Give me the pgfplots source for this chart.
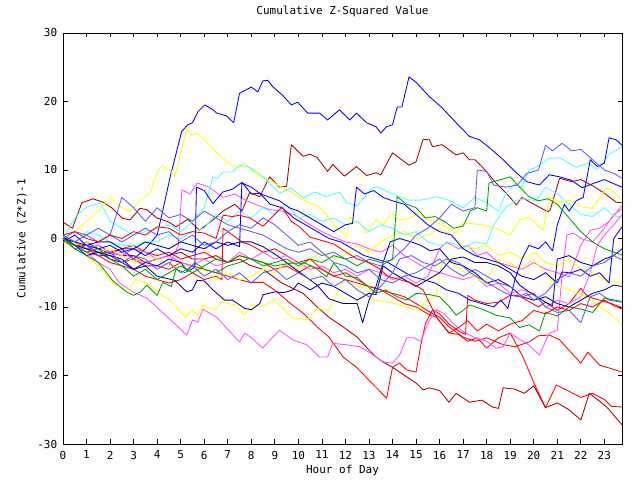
\documentclass[border=0pt]{standalone}
\usepackage{fontspec}
\setmainfont{DejaVu Sans Mono}
\usepackage{pgfplots}
\pgfplotsset{compat=1.18}
\definecolor{gred}{RGB}{255,0,0}
\definecolor{gdred}{RGB}{168,0,0}
\definecolor{ggreen}{RGB}{0,160,0}
\definecolor{gblue}{RGB}{0,0,255}
\definecolor{gmblue}{RGB}{90,90,255}
\definecolor{gdblue}{RGB}{0,0,160}
\definecolor{gmag}{RGB}{255,80,255}
\definecolor{gcyan}{RGB}{80,255,255}
\definecolor{gyel}{RGB}{255,255,0}
\begin{document}
\fontsize{11bp}{13bp}\selectfont
\begin{tikzpicture}[x=1bp,y=1bp]
\begin{axis}[
  at={(0,0)}, anchor=south west,
  scale only axis, width=559bp, height=411bp,
  xmin=0, xmax=23.75, ymin=-30, ymax=30,
  xtick={0,1,...,23}, ytick={-30,-20,...,30},
  tick align=inside, major tick length=4.5bp,
  tick style={black, line width=0.8bp},
  axis line style={black, line width=0.9bp},
  /pgf/number format/assume math mode=true,
  tick label style={font=\fontsize{11bp}{13bp}\selectfont},
  xticklabel style={yshift=-3bp},
  yticklabel style={xshift=-2bp},
  title={Cumulative Z-Squared Value},
  title style={at={(axis description cs:0.5,1)}, anchor=base, yshift=13bp},
  xlabel={Hour of Day},
  xlabel style={at={(axis description cs:0.5,0)}, anchor=center, yshift=-26bp},
  ylabel={Cumulative (Z*Z)-1},
  ylabel style={at={(axis description cs:0,0.5)}, anchor=center, rotate=0, yshift=41bp},
  every axis plot/.append style={line width=0.85bp, no marks, line join=round, sharp plot},
  clip=true,
]
% L1 blue top
\addplot[gblue] coordinates {(0,0)(0.5,-1)(1,-0.5)(1.5,-1.5)(2,-2.2)(2.5,-1.5)(3,-3)(3.5,-1.5)(4,0.5)(4.3,5)(4.54,8.8)(5.04,15.6)(5.3,16.6)(5.5,16.9)(5.73,18.5)(6.02,19.5)(6.37,18.8)(6.53,18.3)(6.95,17.9)(7.25,16.9)(7.5,21.2)(8.0,22.1)(8.28,21.4)(8.49,23.0)(8.7,23.1)(8.9,22.2)(9.33,20.9)(9.7,19.5)(9.97,19.9)(10.4,18.3)(10.9,18.3)(11.24,17.3)(11.75,18.8)(12.18,17.3)(12.47,18.3)(12.9,16.9)(13.3,16.3)(13.5,15.4)(13.74,16.3)(14.0,16.6)(14.2,19.2)(14.4,19.2)(14.7,23.6)(15.0,22.8)(15.57,20.7)(16.1,19.1)(16.7,16.9)(17.27,14.9)(17.7,14.4)(18.24,12.9)(18.7,11.5)(19.26,9.6)(19.7,8.3)(20.24,7.8)(20.66,9.3)(21.1,9.0)(21.6,8.5)(22.06,7.4)(22.5,8.0)(23.0,8.6)(23.4,8.0)(23.75,7.5)};
% L2 dark red upper
\addplot[gdred] coordinates {(0,2.4)(0.4,1.5)(0.8,5.2)(1.27,5.8)(1.7,5.3)(2.1,4.4)(2.5,3.0)(2.84,2.7)(3.27,4.4)(3.56,4.2)(3.99,3.0)(4.5,2.4)(4.8,1.7)(5.3,2.8)(5.8,1.2)(6.3,2.5)(6.8,4.0)(7.3,5.0)(7.6,4.0)(7.93,6.7)(8.36,6.1)(8.78,9.0)(9.2,7.5)(9.5,7.6)(9.7,13.7)(10.2,12.0)(10.5,12.3)(10.8,11.8)(11.24,9.8)(11.46,10.8)(11.96,9.1)(12.47,10.5)(12.9,9.2)(13.3,9.6)(13.5,9.3)(14.0,12.5)(14.7,10.7)(15.0,11.2)(15.3,14.5)(15.57,14.4)(15.7,13.4)(16.1,13.7)(16.7,12.2)(17.0,12.5)(17.27,11.5)(17.5,11.5)(17.8,10.5)(18.4,8.1)(18.97,6.1)(19.26,4.9)(19.5,6.0)(19.9,5.2)(20.6,3.9)(20.7,4.2)(21.1,8.8)(21.6,8.3)(22.0,8.6)(22.6,7.5)(23.0,6.6)(23.5,5.3)(23.75,5.2)};
% L3 red long descent, jump, ends -10
\addplot[gred] coordinates {(0,0)(0.5,-1)(1,-1.5)(1.5,-2.5)(2,-2.5)(2.5,-3.5)(3,-3)(3.5,-4)(4,-4)(4.5,-4.5)(5,-3.5)(5.5,-4)(6,-4.5)(6.5,-5)(7,-5.5)(7.5,-6)(7.93,-6.4)(8.5,-6.4)(9.1,-7.8)(9.63,-9.4)(10.2,-10.9)(10.8,-12.9)(11.3,-14.4)(11.9,-17.3)(12.47,-18.8)(13.0,-20.7)(13.75,-23.3)(14.0,-18.8)(14.3,-18.2)(14.6,-19.2)(15.0,-19.5)(15.2,-15.6)(15.4,-12.4)(15.7,-10.4)(16.0,-11.0)(16.4,-12.5)(16.8,-13.5)(17.1,-14)(17.2,-8.3)(17.5,-9.0)(18.0,-9.5)(18.5,-9.3)(19.0,-8.3)(19.3,-8.3)(19.7,-9.0)(20.2,-10.0)(20.5,-9.3)(21.0,-10.5)(21.5,-9.5)(22.0,-7.3)(22.3,-8.5)(22.8,-9.0)(23.3,-9.5)(23.75,-10.1)};
% L4 red ends -19.5
\addplot[gred] coordinates {(0,-0.5)(0.5,-1)(1,-1)(1.5,-2)(2,-2)(2.5,-1.5)(3,-1)(3.5,-2)(4,-2.5)(4.5,-2)(5,-3)(5.5,-2.5)(6,-2)(6.5,-3)(7,-3.5)(7.5,-2.5)(8,-3)(8.5,-3.5)(9,-4.5)(9.5,-4)(10,-5)(10.5,-4)(11,-4.5)(11.5,-5.5)(12,-6)(12.5,-6.5)(13,-7)(13.5,-7.5)(14,-8)(14.5,-8.5)(15,-9.5)(15.57,-10.7)(16.0,-11.5)(16.4,-12.9)(17.0,-14.4)(17.5,-15)(18.0,-14.5)(18.7,-15.5)(19.2,-15.8)(19.8,-15.1)(20.2,-14.2)(20.66,-14.1)(21.1,-14.8)(21.6,-16.7)(22.0,-18.2)(22.3,-16.6)(22.8,-18.5)(23.2,-18.9)(23.75,-19.5)};
% L5 red ends -24.6
\addplot[gred] coordinates {(0,0.5)(0.5,-1)(1,-2)(1.5,-2.5)(2,-3.5)(2.5,-4)(3,-4.5)(3.5,-5.5)(4,-6)(4.5,-6.5)(5,-6)(5.5,-5)(6,-6)(6.5,-5.5)(6.75,-6)(6.8,1.5)(7.2,0.5)(7.6,-0.5)(8.0,-1.0)(8.5,-2.0)(9.0,-1.5)(9.5,-2.5)(10.0,-3.5)(10.5,-3.0)(11.0,-4.5)(11.5,-5.5)(12.0,-5.0)(12.5,-6.0)(13.0,-7.0)(13.5,-7.5)(14.0,-8.5)(14.5,-9.5)(15.0,-10.0)(15.5,-11.0)(15.87,-11.5)(16.4,-13.8)(16.8,-14.0)(17.2,-15.0)(17.6,-14.5)(18.0,-16.0)(18.5,-14.5)(19.0,-13.8)(19.5,-17)(20.0,-21)(20.5,-24.7)(20.96,-21.4)(21.5,-22.3)(22.0,-23.2)(22.5,-22.6)(23.0,-23.5)(23.3,-24.5)(23.75,-24.6)};
% L6 dark red ends -27.2
\addplot[gdred] coordinates {(0,0)(0.5,-1)(1,-1.5)(1.5,-1)(2,-2)(2.5,-2.5)(3,-2.5)(3.5,-3.5)(4,-3)(4.5,-2.5)(5,-2)(5.5,-3)(6,-3)(6.5,-2.5)(7,-3.5)(7.5,-3)(7.93,-3.9)(8.5,-4.5)(9.3,-6.5)(10.2,-8.0)(10.8,-10)(11.3,-11.5)(11.9,-12.9)(12.5,-14.4)(13.0,-16.3)(13.3,-17.3)(13.58,-18.0)(14.0,-18.8)(14.6,-20.2)(15.0,-21.1)(15.3,-22.1)(15.57,-21.8)(16.0,-22.2)(16.4,-23.9)(16.7,-22.6)(17.27,-23.9)(17.8,-23.6)(18.24,-24.6)(18.5,-24.8)(18.7,-21.8)(19.2,-22.0)(19.6,-22.6)(20.0,-21.5)(20.5,-24.7)(21.0,-24.0)(21.5,-25.0)(22.0,-26.5)(22.36,-22.6)(22.7,-23.5)(23.1,-24.6)(23.4,-25.8)(23.75,-27.2)};
% M1 magenta lowest
\addplot[gmag] coordinates {(0,-0.5)(0.5,-1)(1,-2)(1.5,-3.5)(2,-4.5)(2.4,-6.5)(2.97,-7.8)(3.56,-8.7)(4.1,-10.4)(4.67,-12.2)(5.26,-14.1)(5.5,-11.9)(5.73,-12.2)(5.94,-10.3)(6.53,-11.5)(6.96,-13.1)(7.5,-15.1)(7.72,-13.8)(8.0,-14.5)(8.49,-16.0)(8.8,-14.8)(9.2,-13.4)(9.76,-14.8)(10.35,-15.5)(10.9,-17.3)(11.24,-17.3)(11.46,-15.3)(12.0,-15.5)(12.6,-15.8)(13.1,-16.8)(13.58,-18.0)(14.0,-18.2)(14.3,-17.0)(14.6,-14.5)(14.9,-14.5)(15.2,-15)(15.57,-11.9)(15.87,-10.4)(16.2,-11)(16.6,-12.5)(17.0,-13.6)(17.5,-14.5)(18.0,-15)(18.4,-16.0)(18.7,-15.8)(19.0,-13.8)(19.3,-14.5)(19.7,-15.3)(20.24,-17.0)(20.66,-13.8)(21.0,-13.4)(21.2,-5.5)(21.4,0.5)(21.7,0.8)(22.0,0)(22.5,-0.5)(23.0,1.5)(23.4,3.5)(23.75,4.3)};
% M2 magenta upper-mid
\addplot[gmag] coordinates {(0,0)(0.5,-1)(1,-1.5)(1.5,-2)(2,-2.5)(2.5,-2)(3,-3)(3.5,-3.5)(4,-3)(4.5,-4)(4.9,-1)(5.05,7.1)(5.4,6.5)(5.7,8.1)(6.2,7.5)(6.8,6.0)(7.3,6.5)(7.8,5.5)(8.3,4.8)(8.8,4.2)(9.3,4.0)(9.8,3.5)(10.05,3.0)(10.5,2.0)(11.0,1.0)(11.5,0.2)(12.0,-0.5)(12.5,-0.8)(13.0,-1.5)(13.5,-2)(14.0,-1)(14.5,-2.5)(15.0,-3.5)(15.5,-4.5)(16.0,-5.0)(16.5,-5.5)(17.0,-6.0)(17.5,-5.5)(18.0,-7)(18.5,-6.5)(19.0,-8)(19.5,-7.5)(20.0,-8)(20.5,-10)(21.0,-9)(21.5,-9.5)(22.0,-8.5)(22.4,-5)(22.7,-1)(23.0,0.5)(23.4,2)(23.75,3.5)};
% M3 magenta
\addplot[gmag] coordinates {(0,0.5)(0.5,-0.5)(1,-1.5)(1.5,-1)(2,-2)(2.5,-2.5)(3,-1.5)(3.5,-2)(4,-3)(4.5,-2.5)(5,-3.5)(5.5,-4)(6,-3)(6.5,-4)(7,-3.5)(7.5,-2)(8,-3)(8.5,-2)(9,-3)(9.5,-2.5)(10,-3.5)(10.5,-4.5)(11,-4)(11.5,-5)(12,-4.5)(12.5,-5.5)(13,-4.5)(13.5,-5)(14,-6)(14.5,-5.5)(15,-6.5)(15.5,-5.5)(16,-1.5)(16.3,-0.5)(16.8,-1.5)(17.2,-1)(17.6,-2.5)(18,-2)(18.5,-3.5)(19,-4)(19.5,-4.5)(20,-3.5)(20.5,-4.5)(21,-5)(21.5,-5.6)(22.0,-1)(22.4,1.2)(22.8,1.5)(23.2,2.5)(23.75,4.8)};
% Y1 yellow high
\addplot[gyel] coordinates {(0,0)(0.5,1)(1,2.5)(1.5,4)(2,6)(2.5,4.5)(2.84,3.9)(3.27,5.6)(3.7,6.6)(3.9,8.8)(4.1,10.3)(4.24,10.6)(4.54,10.0)(4.75,9.0)(4.96,11.9)(5.26,16.1)(5.5,15.1)(5.73,15.4)(6.1,14.1)(6.53,12.6)(6.96,11.2)(7.2,10.7)(7.5,10.4)(7.7,11.0)(8.0,10.0)(8.36,9.0)(8.78,8.5)(9.33,7.4)(9.76,6.6)(10.2,5.6)(10.9,4.6)(11.6,1.7)(12.05,0.2)(12.18,3.1)(12.6,2.3)(12.9,0.8)(13.3,2.7)(13.6,2.0)(13.96,3.7)(14.3,2.7)(14.7,2.9)(15.1,3.7)(15.4,2.9)(15.9,2.3)(16.4,1.5)(16.7,0.8)(17.0,2.3)(17.8,2.0)(18.4,1.5)(19.0,0.5)(19.4,2.7)(19.8,3.1)(20.4,1.2)(20.66,6.0)(21.1,5.2)(21.6,5.6)(22.06,4.6)(22.5,4.4)(23.08,7.4)(23.4,6.8)(23.75,5.6)};
% Y2 yellow low
\addplot[gyel] coordinates {(0,-0.5)(0.5,-1.5)(1,-2.5)(1.5,-4)(2.0,-6.1)(2.7,-7.8)(3.1,-6.0)(3.56,-6.5)(4.1,-8.0)(4.54,-9.0)(5.2,-11.5)(5.5,-10.4)(5.73,-11.2)(5.94,-9.7)(6.45,-10.4)(6.75,-9.3)(7.3,-9.7)(7.72,-11.2)(8.0,-9.7)(8.4,-10.0)(9.0,-9.0)(9.76,-11.6)(10.4,-11.9)(10.8,-10.2)(11.3,-10.5)(11.9,-6.1)(12.2,-6.5)(12.6,-7.2)(13.0,-7.0)(13.2,-9.0)(13.9,-9.3)(14.4,-9.8)(15.0,-10.4)(15.4,-9.3)(15.85,-8.2)(16.1,-3.4)(16.5,-3.4)(17.0,-4.8)(17.5,-5.6)(17.9,-6.5)(18.5,-3.1)(19.0,-3.6)(19.4,-4.3)(20.0,-3.1)(20.4,-4.8)(20.96,-6.8)(21.5,-7.5)(22.2,-8.5)(22.8,-10.0)(23.2,-10.8)(23.75,-12.6)};
% Y3 yellow mid
\addplot[gyel] coordinates {(0,0)(0.5,-1)(1,-0.5)(1.5,-2)(2,-1.5)(2.5,-2.5)(3,-3.5)(3.5,-2.5)(4,-3)(4.5,-4)(5,-3.5)(5.5,-5)(6,-4.5)(6.5,-6)(7,-5)(7.5,-6)(8,-5.5)(8.5,-4.5)(9,-5)(9.5,-3.5)(10,-4.5)(10.5,-3)(11,-2)(11.5,-3)(12,-2.5)(12.5,-1)(13,-2)(13.5,-0.5)(14,0.5)(14.5,1)(15,0)(15.5,0.5)(16,1.5)(16.5,0.5)(17,-1)(17.5,-1.5)(18,-1)(18.5,-2.5)(19,-2)(19.5,-3)(20,-2)(20.5,-3.5)(21,-4)(21.5,-3)(22,-4.5)(22.5,-5)(23,-6)(23.75,-6.5)};
% C1 cyan top
\addplot[gcyan] coordinates {(0,0)(0.4,2.4)(0.6,3.4)(1.0,4.6)(1.6,5.2)(2.0,2.5)(2.5,1.5)(3.0,0.5)(3.5,1.0)(4.0,1.5)(4.5,2.0)(5.0,1.0)(5.5,2.5)(6.0,4.5)(6.37,9.0)(6.57,8.8)(6.8,9.7)(7.2,9.7)(7.5,10.7)(7.93,10.4)(8.5,9.0)(9.2,6.6)(9.7,7.4)(10.2,5.9)(10.7,6.8)(11.2,6.1)(11.75,6.8)(12.05,5.2)(12.5,4.8)(13.15,7.4)(13.4,7.5)(13.8,6.8)(14.3,6.1)(14.7,5.6)(15.2,5.6)(15.87,6.1)(16.4,5.6)(17.0,4.5)(17.5,6.0)(18.0,5.2)(18.5,4.0)(18.8,6.5)(19.2,8.0)(19.5,7.5)(19.8,10.0)(20.1,10.4)(20.66,11.7)(21.1,11.8)(21.8,10.4)(22.3,11.0)(22.7,10.0)(23.2,12.3)(23.75,13.4)};
% C2 cyan mid
\addplot[gcyan] coordinates {(0,0.5)(0.5,-0.5)(1,1)(1.5,0.5)(2,-0.5)(2.5,-1)(3,-1)(3.5,-0.5)(4,-0.5)(4.5,0.5)(5,0)(5.5,1)(6,1.5)(6.5,3.5)(7,2.5)(7.5,4.0)(8,3.0)(8.5,4.5)(9,3.5)(9.5,5.0)(10,3.0)(10.5,3.5)(11,2.5)(11.5,3.0)(12,2.0)(12.5,2.5)(13,1.0)(13.5,2.0)(14,1.5)(14.5,0.5)(15,1.0)(15.5,-0.5)(16.0,-1.0)(16.5,-0.5)(17,-1.5)(17.5,-0.5)(18,-0.8)(18.3,2.0)(18.8,4.5)(19.2,5.5)(19.6,5.8)(20.1,5.5)(20.5,7.5)(21,6.5)(21.5,5.0)(22,3.5)(22.5,3.2)(23.0,4.5)(23.3,3.5)(23.75,3.0)};
% B2 blue ends 13.6
\addplot[gblue] coordinates {(0,0)(0.5,-1)(1,-2.5)(1.5,-2)(2,-3)(2.5,-3.5)(3,-4.5)(3.5,-3.5)(4,-4)(4.5,-3)(5,-3.5)(5.3,-4.8)(5.6,-4.2)(5.67,7.5)(6.0,7.0)(6.37,5.1)(6.8,6.8)(7.2,7.2)(7.6,8.2)(8.0,6.5)(8.36,6.6)(8.8,5.0)(9.3,4.5)(9.8,3.0)(10.3,2.0)(10.8,1.0)(11.3,0)(11.8,-0.5)(12.3,-1.5)(12.8,-2.5)(13.3,-3.0)(13.8,-3.5)(14.3,-4.5)(14.8,-5.5)(15.3,-6.0)(15.8,-6.5)(16.3,-7.5)(16.8,-8.0)(17.3,-9.0)(17.8,-9.5)(18.3,-10.0)(18.6,-9.0)(18.9,-10.2)(19.2,-6.0)(19.5,-3.0)(19.8,-1.0)(20.2,-1.5)(20.5,-0.5)(20.8,-1.8)(21.0,2.0)(21.3,5.0)(21.5,4.0)(21.8,5.5)(22.1,6.0)(22.4,11.5)(22.7,10.5)(23.0,11.0)(23.2,14.7)(23.5,14.4)(23.75,13.6)};
% B3 blue ends 1.7
\addplot[gblue] coordinates {(0,-0.5)(0.5,0.5)(1,-1)(1.5,-1.5)(2,-1)(2.5,-2)(3,-1.5)(3.5,-2.5)(4,-1.5)(4.5,-2.5)(5,-1.5)(5.5,-2)(6,-0.5)(6.5,-1.5)(7,-0.5)(7.5,-1.2)(7.6,8.1)(8.0,7.5)(8.4,6.5)(8.8,6.0)(9.2,5.5)(9.6,4.5)(10.0,4.0)(10.5,3.0)(11.0,2.0)(11.5,1.0)(12.0,2.0)(12.3,2.2)(12.47,7.5)(12.8,6.5)(13.2,7.0)(13.6,6.0)(14.0,5.5)(14.5,5.0)(15.0,3.5)(15.5,2.0)(16.0,1.0)(16.5,0.5)(17.0,-1.5)(17.5,-2.5)(18.0,-3.0)(18.5,-3.5)(19.0,-4.5)(19.5,-5.5)(20.0,-6.0)(20.5,-5.0)(21.0,-6.5)(21.2,-4.9)(21.6,-5.0)(22.0,-4.5)(22.4,-5.5)(22.8,-5.0)(23.2,-6.5)(23.4,0)(23.75,1.7)};
% B4 dark blue low
\addplot[gdblue] coordinates {(0,0)(0.5,-1)(1,-1.5)(1.5,-2)(2,-2.5)(2.5,-3)(3,-4.5)(3.5,-4)(4,-5.5)(4.75,-6.1)(5.26,-7.8)(5.5,-7.5)(5.7,-6.1)(6.0,-6.2)(6.37,-7.5)(6.87,-9.0)(7.2,-9.0)(7.72,-10.2)(8.0,-10.4)(8.36,-9.5)(8.5,-8.2)(9.0,-7.8)(9.4,-7.9)(9.76,-7.5)(10.0,-6.5)(10.5,-7.5)(11.0,-6.5)(11.5,-7.0)(12.0,-8.0)(12.5,-9.0)(13.0,-8.0)(13.3,-8.2)(13.6,-4.0)(14.0,-5.0)(14.5,-6.0)(15.0,-7.0)(15.5,-6.0)(16.0,-5.0)(16.5,-3.0)(17.0,-2.7)(17.5,-3.5)(18.0,-3.5)(18.5,-4.0)(19.0,-5.0)(19.4,-6.8)(19.8,-7.8)(20.5,-9.3)(20.8,-9.8)(21.0,-3.0)(21.5,-2.5)(22.0,-3.5)(22.5,-4.0)(23.0,-3.0)(23.4,-2.5)(23.75,-1.5)};
% B5 dark blue
\addplot[gdblue] coordinates {(0,0)(0.5,-0.5)(1,-1)(1.5,-0.5)(2,-0.5)(2.5,-1.5)(3,-1.5)(3.5,-0.5)(4,-1)(4.5,-1.5)(5,-0.5)(5.5,-1)(6,-1.5)(6.5,-0.5)(7,-1)(7.5,-0.5)(8,-0.5)(8.5,-1.2)(9.1,-2.5)(9.6,-3.8)(10.2,-5.3)(10.8,-6.8)(11.3,-8.8)(11.9,-9.5)(12.5,-9.5)(12.73,-12.3)(13.0,-9.0)(13.3,-7.0)(13.6,-3.5)(13.9,-0.5)(14.3,0.0)(14.8,-0.5)(15.2,-1.0)(15.6,-1.8)(16.0,-1.5)(16.5,-3.5)(17.0,-4.0)(17.5,-5.0)(18.0,-6.5)(18.5,-6.0)(19.0,-7.0)(19.5,-8.5)(20.0,-9.0)(20.5,-8.5)(21.0,-9.5)(21.5,-10.0)(22.0,-9.0)(22.5,-8.0)(23.0,-7.5)(23.4,-6.8)(23.75,-7.0)};
% MB1 medium blue ends 8.8
\addplot[gmblue] coordinates {(0,0)(0.5,1)(1,0.5)(1.5,1.5)(2,0.5)(2.5,6.0)(3,4.5)(3.5,2.5)(4,4.5)(4.5,3.0)(5,3.5)(5.5,2.5)(6,4.0)(6.5,3.0)(7,2.0)(7.5,1.5)(8,1.0)(8.5,0.5)(9,-0.5)(9.5,-1.5)(10,-2)(10.5,-1.5)(11,-2.5)(11.5,-2)(12,-3)(12.5,-2.5)(13,-3.5)(13.5,-4)(14,-3)(14.5,-1.5)(15,0.5)(15.5,1.5)(16,3.0)(16.5,5.0)(17,4.0)(17.5,4.5)(17.6,10.0)(18,9.8)(18.3,7.8)(18.8,7.5)(19.3,7.8)(19.7,9.5)(20.2,10.0)(20.5,13.6)(20.8,12.8)(21.2,13.9)(21.6,12.8)(22.0,13.0)(22.5,11.5)(23.0,10.0)(23.4,9.5)(23.75,8.8)};
% MB2 medium blue ends -3.1
\addplot[gmblue] coordinates {(0,0)(0.5,-1.5)(1,-1)(1.5,-2.5)(2,-2)(2.5,-3.5)(3,-2.5)(3.5,-3)(4,-4.5)(4.5,-3.5)(5,-5)(5.5,-4)(6,-5.5)(6.5,-4.5)(7,-6)(7.5,-5)(8,-6.5)(8.5,-5)(9,-4.5)(9.5,-6)(10,-5)(10.5,-6)(11,-5.5)(11.5,-7)(12,-6)(12.5,-7.5)(13,-8.5)(13.5,-7)(14,-5)(14.3,-3)(14.8,-2.5)(15.3,-3.5)(15.8,-4)(16.3,-3)(16.8,-3.5)(17.3,-5)(17.8,-6)(18.3,-7)(18.8,-8)(19.3,-8.5)(19.7,-8)(20,-9)(20.5,-8)(21,-6)(21.5,-5)(22,-5.5)(22.5,-4)(23,-3.5)(23.4,-2.5)(23.75,-3.1)};
% MB3 medium blue ends -9.3
\addplot[gmblue] coordinates {(0,0.5)(0.5,-0.5)(1,0.5)(1.5,-0.5)(2,0.5)(2.5,-0.5)(3,0.5)(3.5,1.5)(4,0.5)(4.5,1.0)(5,-0.5)(5.5,0.5)(6,-1)(6.5,-0.5)(7,1)(7.5,2.0)(8,1.5)(8.5,3)(9,2)(9.5,0.5)(10,-1)(10.5,-0.5)(11,-2)(11.5,-3.5)(12,-4)(12.5,-5)(13,-4.5)(13.5,-6)(14,-6.5)(14.5,-5.5)(15,-5)(15.5,-4)(16,-3)(16.5,-4.5)(17,-5.5)(17.5,-4.5)(18,-5.5)(18.5,-6.5)(19,-7)(19.5,-8.5)(20,-8)(20.5,-10)(21,-10.8)(21.5,-10.5)(22,-12.3)(22.4,-8.5)(22.8,-8.0)(23.2,-9)(23.75,-9.3)};
% G1 green ends -2.4
\addplot[ggreen] coordinates {(0,0)(0.5,-1)(1,-2)(1.5,-1.5)(2,-3)(2.5,-4)(3,-5.5)(3.5,-4.5)(4,-6)(4.5,-5)(5,-4)(5.5,-5)(6,-4)(6.5,-3)(7,-3.5)(7.5,-2.5)(8,-3)(8.5,-4)(9,-3.5)(9.5,-3)(10,-4)(10.5,-3)(11,-3.5)(11.5,-2.5)(12,-3)(12.5,-4)(13,-3)(13.5,-3.5)(14.0,-3.1)(14.2,6.1)(14.6,5.0)(15.0,4.5)(15.4,3.0)(15.8,3.2)(16.2,2.5)(16.6,1.5)(17.0,1.8)(17.3,4.0)(17.6,4.5)(18.0,4.0)(18.1,8.1)(18.5,8.5)(19.0,9.0)(19.4,7.5)(19.8,6.1)(20.2,5.5)(20.6,5.8)(21.0,5.0)(21.5,3.0)(22.0,1.0)(22.5,-0.5)(23.0,-1.5)(23.4,-2.0)(23.75,-2.4)};
% G2 green ends -9.2
\addplot[ggreen] coordinates {(0,0)(0.5,-1.5)(1,-2.5)(1.5,-3.5)(2.1,-6.1)(2.7,-7.8)(3.0,-8.3)(3.3,-7.8)(3.56,-6.8)(4.0,-8.3)(4.24,-6.4)(4.6,-7.0)(4.8,-4.5)(5.2,-5.0)(5.6,-3.5)(6.0,-4.5)(6.5,-5.0)(7.0,-4.0)(7.5,-3.5)(7.93,-2.9)(8.5,-3.5)(9.0,-4.0)(9.7,-3.6)(10.3,-3.6)(10.8,-4.5)(11.2,-5.6)(11.5,-3.6)(12.0,-5.5)(12.5,-5.7)(13.3,-8.0)(13.7,-7.5)(14.2,-8.5)(14.6,-9.0)(15.0,-8.0)(15.57,-8.2)(16.0,-8.5)(16.4,-9.9)(16.7,-11.2)(17.0,-10.5)(17.27,-9.7)(17.8,-10.3)(18.4,-11.2)(19.0,-11.6)(19.4,-13.0)(19.8,-12.6)(20.24,-13.5)(20.5,-10.8)(21.0,-11.3)(21.5,-10.0)(22.0,-10.3)(22.5,-10.8)(23.0,-8.7)(23.75,-9.2)};
% R1 red mid
\addplot[gred] coordinates {(0,0.5)(0.5,1)(1,0)(1.5,-0.5)(2,0.5)(2.5,0)(3,1)(3.5,0.5)(4,1.7)(4.5,1.5)(5,0.5)(5.5,1)(6,0.8)(6.5,0)(6.8,3.4)(7.2,3.2)(7.5,3.4)(7.93,3.0)(8.5,1.8)(9.3,4.6)(9.7,2.5)(10.05,1.7)(10.5,0.2)(10.9,-0.2)(11.5,-0.8)(11.9,-1.7)(12.5,-3.0)(12.9,-3.4)(13.4,-4.3)(13.8,-5.5)(14.3,-6.0)(14.8,-6.5)(15.3,-7.5)(15.87,-11.5)(16.4,-13.8)(16.8,-13.0)(17.2,-12.0)(17.6,-13.5)(18.0,-12.5)(18.5,-13.5)(19.0,-12.5)(19.5,-12.0)(20.0,-10.5)(20.5,-11.0)(21.0,-10.0)(21.5,-10.5)(22.0,-9.5)(22.5,-10.0)(23.0,-9.0)(23.4,-9.8)(23.75,-10.3)};
\end{axis}
\pgfresetboundingbox
\path (-63,-36) rectangle (577,444);
\end{tikzpicture}
\end{document}
